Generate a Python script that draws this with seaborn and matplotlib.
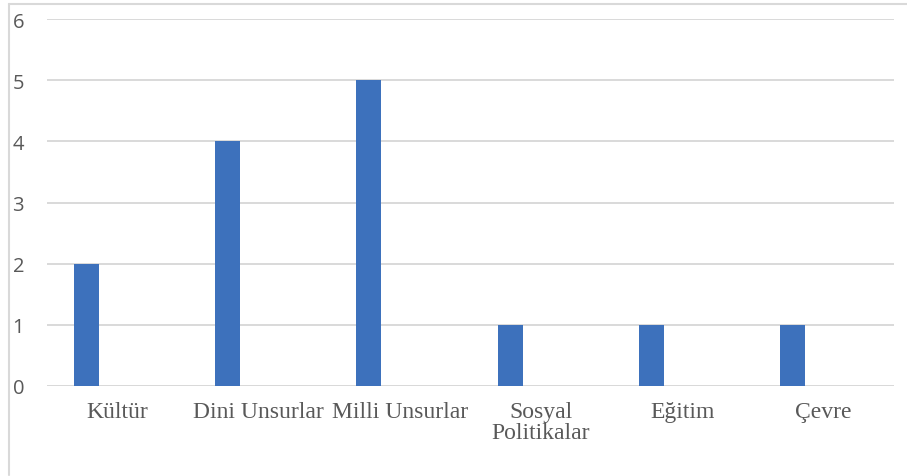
import matplotlib
matplotlib.use("Agg")
import matplotlib.pyplot as plt
from matplotlib.lines import Line2D
import seaborn as sns
import pandas as pd

categories = ["Kültür", "Dini Unsurlar", "Milli Unsurlar", "Sosyal\nPolitikalar", "Eğitim", "Çevre"]
values = [2, 4, 5, 1, 1, 1]
y_ticks = [0, 1, 2, 3, 4, 5, 6]

df = pd.DataFrame({"kategori": categories, "deger": values})

sns.set_theme(style="white")
text_color = "#595959"
grid_color = "#D9D9D9"
bar_color = "#3D71BC"

fig = plt.figure(figsize=(9.07, 4.77), dpi=100)
ax = fig.add_axes([47 / 907, 1 - 387 / 477, (894 - 47) / 907, (387 - 20) / 477])

bar_w = 0.177
sns.barplot(data=df, x="kategori", y="deger", color=bar_color, width=bar_w,
            saturation=1, ax=ax, zorder=3)
# bars sit left of each category's centre
for p in ax.patches:
    p.set_x(p.get_x() - 0.22)
    p.set_edgecolor("none")

ax.set_xlim(-0.5, len(categories) - 0.5)
ax.set_ylim(0, 6)
ax.set_yticks(y_ticks)
ax.set_yticklabels([str(t) for t in y_ticks], family="Open Sans",
                   fontsize=14.5, color=text_color)
ax.set_xticks(range(len(categories)))
ax.set_xticklabels(categories, family="Liberation Serif", fontsize=17,
                   color=text_color, linespacing=1.0, va="top")
ax.tick_params(axis="y", length=0, pad=16.5)
ax.tick_params(axis="x", length=0, pad=11)
ax.set_xlabel("")
ax.set_ylabel("")

ax.yaxis.grid(True, color=grid_color, linewidth=1.4, zorder=0)
ax.xaxis.grid(False)
for s in ax.spines.values():
    s.set_visible(False)
ax.axhline(0, color=grid_color, linewidth=1.4, zorder=2)

# outer frame lines on the top and left of the figure
fig.add_artist(Line2D([9 / 907, 1.0], [1 - 5 / 477, 1 - 5 / 477],
                      transform=fig.transFigure, color=grid_color, linewidth=1.5))
fig.add_artist(Line2D([9 / 907, 9 / 907], [1 - 5 / 477, 1 / 477],
                      transform=fig.transFigure, color=grid_color, linewidth=1.5))

fig.savefig("out.png", dpi=100, facecolor="white")
